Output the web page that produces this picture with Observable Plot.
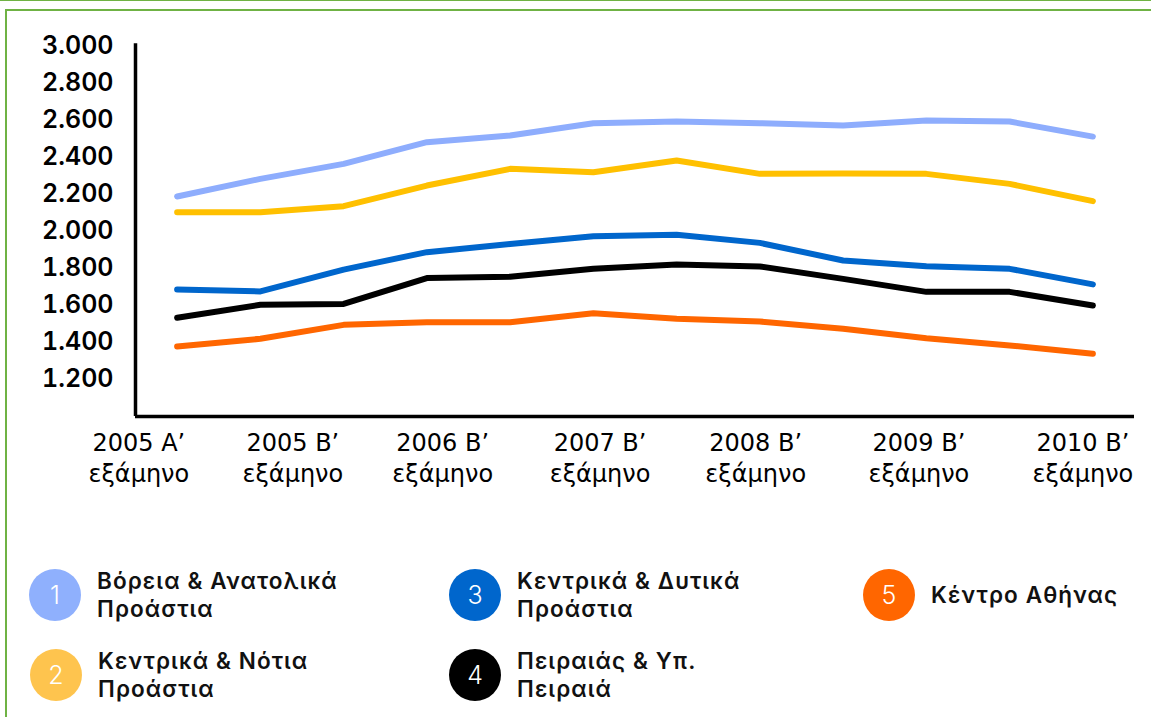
<!DOCTYPE html>
<html><head><meta charset="utf-8">
<script src="https://cdn.jsdelivr.net/npm/d3@7"></script>
<script src="https://cdn.jsdelivr.net/npm/@observablehq/plot@0.6"></script>
<style>
body{margin:0;background:#fff;}
#wrap{position:relative;width:1151px;height:717px;overflow:hidden;font-family:"DejaVu Sans",sans-serif;background:#fff;}
#chart{position:absolute;left:0;top:0;}
.g{position:absolute;border-color:#6fb244;border-style:solid;z-index:3;}
.gtop{left:0;top:-1px;width:1151px;height:0;border-width:2px 0 0 0;}
.gbox{left:5px;top:9px;width:1200px;height:800px;border-width:2px 0 0 2px;}
.item{position:absolute;display:flex;align-items:center;}
.dot{width:52px;height:52px;border-radius:50%;color:#fff;font-size:25px;font-family:Inter,sans-serif;font-weight:300;display:flex;align-items:center;justify-content:center;flex:none;}
.lab{font-family:Inter,sans-serif;font-weight:600;font-size:22.5px;line-height:28px;color:#111;margin-left:16px;letter-spacing:1.1px;}
</style></head><body>
<div id="wrap"><div id="chart"></div><div id="legend"></div><div class="g gtop"></div><div class="g gbox"></div></div>
<script>
const periods = ["2005 Α’","2005 Β’","2006 Α’","2006 Β’","2007 Α’","2007 Β’","2008 Α’","2008 Β’","2009 Α’","2009 Β’","2010 Α’","2010 Β’"];
const names = ["Βόρεια & Ανατολικά Προάστια","Κεντρικά & Νότια Προάστια","Κεντρικά & Δυτικά Προάστια","Πειραιάς & Υπ. Πειραιά","Κέντρο Αθήνας"];
const legendLines = [["Βόρεια & Ανατολικά","Προάστια"],["Κεντρικά & Νότια","Προάστια"],["Κεντρικά & Δυτικά","Προάστια"],["Πειραιάς & Υπ.","Πειραιά"],["Κέντρο Αθήνας"]];
const lineColors = ["#8eadfd","#ffc000","#0066cc","#000000","#ff6600"];
const dotColors = ["#8fb0fd","#fec44e","#0066cc","#000000","#ff6600"];
const north   = [2186, 2281, 2362, 2479, 2515, 2581, 2590, 2581, 2569, 2596, 2590, 2509];
const south   = [2101, 2101, 2134, 2245, 2335, 2317, 2380, 2308, 2310, 2308, 2254, 2161];
const west    = [1685, 1674, 1792, 1886, 1930, 1972, 1980, 1936, 1841, 1810, 1796, 1712];
const piraeus = [1532, 1602, 1607, 1746, 1753, 1796, 1819, 1809, 1742, 1672, 1672, 1598];
const center  = [1377, 1419, 1494, 1508, 1508, 1557, 1527, 1512, 1473, 1422, 1383, 1338];
const yTicks = [1200,1400,1600,1800,2000,2200,2400,2600,2800,3000];
const xTickLabels = ["2005 Α’\nεξάμηνο","2005 Β’\nεξάμηνο","2006 Β’\nεξάμηνο","2007 Β’\nεξάμηνο","2008 Β’\nεξάμηνο","2009 Β’\nεξάμηνο","2010 Β’\nεξάμηνο"];
const xTickPos = [-0.46, 1.39, 3.19, 5.08, 6.95, 8.91, 10.88];

const seriesValues = [north, south, west, piraeus, center];
const rows = [];
seriesValues.forEach((vals, s) => vals.forEach((v, i) => rows.push({i, period: periods[i], v, name: names[s]})));
const labelMap = new Map(xTickPos.map((p, k) => [p, xTickLabels[k]]));
const fmt = d => d3.format(",")(d).replace(/,/g, ".");

const chart = Plot.plot({
  width: 1151, height: 530,
  marginLeft: 135, marginRight: 17, marginTop: 45, marginBottom: 114,
  style: {background: "transparent", fontFamily: "DejaVu Sans, sans-serif", color: "#000"},
  x: {type: "linear", domain: [-0.5, 11.5]},
  y: {domain: [1000, 3000]},
  color: {domain: names, range: lineColors},
  marks: [
    Plot.axisY(yTicks, {tickSize: 0, tickPadding: 22, fontSize: 25, fontWeight: 600, fontFamily: "Inter, sans-serif", letterSpacing: 2.6, tickFormat: fmt, label: null}),
    Plot.axisX(xTickPos, {tickSize: 0, tickPadding: 13, fontSize: 24, lineHeight: 1.27, tickFormat: d => labelMap.get(d), label: null}),
    Plot.lineY(rows, {x: "i", y: "v", z: "name", stroke: "name", strokeWidth: 6, strokeLinecap: "round"}),
    Plot.ruleX([-0.5], {y1: 1000, y2: 3010, strokeWidth: 3.5, stroke: "#000"}),
    Plot.ruleY([1000], {x1: -0.5, x2: 11.5, strokeWidth: 3.5, stroke: "#000"})
  ]
});
document.getElementById("chart").appendChild(chart);

// legend
const legendPos = [[29,569],[30,649],[449,569],[449,649],[863,569]];
const legend = document.getElementById("legend");
names.forEach((n, k) => {
  const it = document.createElement("div");
  it.className = "item";
  it.style.left = legendPos[k][0] + "px";
  it.style.top = legendPos[k][1] + "px";
  it.style.height = "52px";
  const dot = document.createElement("div");
  dot.className = "dot";
  dot.style.background = dotColors[k];
  dot.textContent = String(k + 1);
  const lab = document.createElement("div");
  lab.className = "lab";
  lab.innerHTML = legendLines[k].join("<br>");
  it.appendChild(dot); it.appendChild(lab);
  legend.appendChild(it);
});
</script>
</body></html>
